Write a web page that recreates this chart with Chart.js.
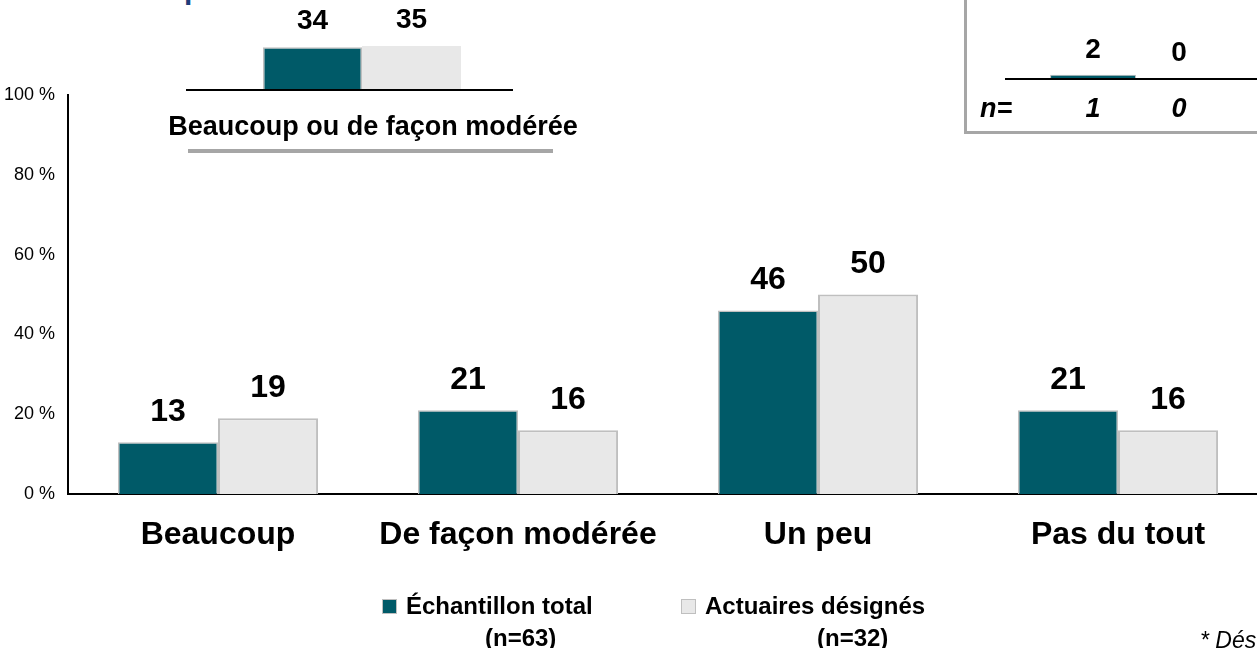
<!DOCTYPE html>
<html>
<head>
<meta charset="utf-8">
<script src="https://cdn.jsdelivr.net/npm/chart.js@4.4.1/dist/chart.umd.min.js"></script>
<style>
  body { margin: 0; width: 1257px; height: 648px; overflow: hidden; position: relative; background: #fff;
         font-family: "Liberation Sans", Arial, sans-serif; }
  .abs { position: absolute; white-space: nowrap; }
  #mainWrap { left: 0; top: 0; width: 1280px; height: 648px; }
  #insetWrap { left: 0; top: 0; width: 600px; height: 160px; }
  #boxWrap { left: 940px; top: 0; width: 340px; height: 140px; }
  .leg { font-weight: bold; font-size: 24px; color: #000; line-height: 28px; }
  .sq { width: 13px; height: 13px; border: 1px solid #bfbfbf; }
</style>
</head>
<body>
<div class="abs" style="left:184px;top:-26px;font:bold 30px 'Liberation Sans',Arial;line-height:30px;color:#1f3c7a">p</div>

<div id="mainWrap" class="abs"><canvas id="mainChart"></canvas></div>

<!-- encadré en haut a droite -->
<div class="abs" style="left:964px;top:-10px;width:400px;height:138px;border:3px solid #a6a6a6;"></div>
<div id="boxWrap" class="abs"><canvas id="boxChart"></canvas></div>
<div id="boxN"></div>

<!-- encadré en haut a gauche -->
<div id="insetWrap" class="abs"><canvas id="insetChart"></canvas></div>
<div class="abs" style="left:168px;top:110px;width:410px;text-align:center;font-weight:bold;font-size:27px;line-height:32px;color:#000">Beaucoup ou de façon modérée</div>
<div class="abs" style="left:188px;top:149px;width:365px;height:4px;background:#a6a6a6"></div>

<!-- legende -->
<div class="abs sq" style="left:382px;top:599px;background:#005a68"></div>
<div class="abs leg" style="left:406px;top:592px">Échantillon total</div>
<div class="abs leg" style="left:485px;top:624px">(n=63)</div>
<div class="abs sq" style="left:681px;top:599px;background:#e8e8e8"></div>
<div class="abs leg" style="left:705px;top:592px">Actuaires désignés</div>
<div class="abs leg" style="left:817px;top:624px">(n=32)</div>
<div class="abs" style="left:1200px;top:626px;font-style:italic;font-size:23px;line-height:28px;color:#000">* Dés</div>

<script>
// donnees
const categories = ['Beaucoup', 'De façon modérée', 'Un peu', 'Pas du tout'];
const totalSample = [13, 21, 46, 21];
const designated = [19, 16, 50, 16];
const yTicks = [0, 20, 40, 60, 80, 100];

const insetLabel = ['Beaucoup ou de façon modérée'];
const insetTotal = [34];
const insetDesignated = [35];

const boxTotal = [2];
const boxDesignated = [0];
const boxN = [1, 0];

const teal = '#005a68';
const grey = '#e8e8e8';
const edge = '#bfbfbf';
const font = "'Liberation Sans', Arial, sans-serif";

// plugin pour les etiquettes au-dessus des barres
function valueLabels(size, offset) {
    return {
        id: 'valueLabels',
        afterDatasetsDraw(chart) {
            const ctx = chart.ctx;
            ctx.save();
            ctx.font = 'bold ' + size + 'px ' + font;
            ctx.fillStyle = '#000';
            ctx.textAlign = 'center';
            ctx.textBaseline = 'middle';
            chart.data.datasets.forEach(function(ds, i) {
                chart.getDatasetMeta(i).data.forEach(function(bar, j) {
                    ctx.fillText(ds.data[j], bar.x, bar.y - offset);
                });
            });
            ctx.restore();
        }
    };
}

// graphique principal
var ctxMain = document.getElementById('mainChart').getContext('2d');
var mainChart = new Chart(ctxMain, {
    type: 'bar',
    data: {
        labels: categories,
        datasets: [{
            label: 'Échantillon total (n=63)',
            data: totalSample,
            backgroundColor: teal,
            borderColor: edge,
            borderWidth: 1.5
        }, {
            label: 'Actuaires désignés (n=32)',
            data: designated,
            backgroundColor: grey,
            borderColor: edge,
            borderWidth: 2
        }]
    },
    options: {
        responsive: true,
        maintainAspectRatio: false,
        animation: false,
        layout: { padding: { top: 95, right: 12, left: 0, bottom: 0 } },
        plugins: { legend: { display: false }, tooltip: { enabled: false } },
        datasets: { bar: { categoryPercentage: 0.667, barPercentage: 1.0 } },
        scales: {
            x: {
                grid: { display: false },
                border: { display: true, color: '#000', width: 2 },
                ticks: { color: '#000', font: { family: font, size: 32, weight: 'bold' }, padding: 14, maxRotation: 0 },
                afterFit: function(scale) { scale.height = 154; }
            },
            y: {
                min: 0,
                max: 100,
                grid: { display: false },
                border: { display: true, color: '#000', width: 2 },
                afterBuildTicks: function(scale) { scale.ticks = yTicks.map(v => ({ value: v })); },
                ticks: {
                    color: '#000',
                    font: { family: font, size: 18 },
                    padding: 5,
                    callback: function(v) { return v + ' %'; }
                },
                afterFit: function(scale) { scale.width = 68; }
            }
        }
    },
    plugins: [valueLabels(32, 30)]
});

// encadre gauche
var ctxInset = document.getElementById('insetChart').getContext('2d');
var insetChart = new Chart(ctxInset, {
    type: 'bar',
    data: {
        labels: insetLabel,
        datasets: [
            { data: insetTotal, backgroundColor: teal, borderColor: edge, borderWidth: 1.5 },
            { data: insetDesignated, backgroundColor: grey, borderColor: grey, borderWidth: 0 }
        ]
    },
    options: {
        responsive: true,
        maintainAspectRatio: false,
        animation: false,
        layout: { padding: { top: 27, left: 212, right: 88, bottom: 70 } },
        plugins: { legend: { display: false }, tooltip: { enabled: false } },
        datasets: { bar: { categoryPercentage: 0.66, barPercentage: 1.0 } },
        scales: {
            x: { display: false },
            y: { display: false, min: 0, max: 50 }
        }
    },
    plugins: [valueLabels(28, 26), {
        id: 'baseline',
        afterDraw(chart) {
            const c = chart.ctx;
            c.save();
            c.strokeStyle = '#000';
            c.lineWidth = 2;
            c.beginPath();
            c.moveTo(186, chart.chartArea.bottom);
            c.lineTo(513, chart.chartArea.bottom);
            c.stroke();
            c.restore();
        }
    }]
});

// encadre droit
var ctxBox = document.getElementById('boxChart').getContext('2d');
var boxChart = new Chart(ctxBox, {
    type: 'bar',
    data: {
        labels: [''],
        datasets: [
            { data: boxTotal, backgroundColor: teal, borderColor: edge, borderWidth: { top: 1, left: 1, right: 1, bottom: 0 } },
            { data: boxDesignated, backgroundColor: grey, borderColor: edge, borderWidth: 0 }
        ]
    },
    options: {
        responsive: true,
        maintainAspectRatio: false,
        animation: false,
        layout: { padding: { top: 15, left: 65, right: 13, bottom: 62 } },
        plugins: { legend: { display: false }, tooltip: { enabled: false } },
        datasets: { bar: { categoryPercentage: 0.656, barPercentage: 1.0 } },
        scales: {
            x: { display: false },
            y: { display: false, min: 0, max: 40 }
        }
    },
    plugins: [valueLabels(28, 25), {
        id: 'baseline',
        beforeDatasetsDraw(chart) {
            const c = chart.ctx;
            c.save();
            c.strokeStyle = '#000';
            c.lineWidth = 2;
            c.beginPath();
            c.moveTo(chart.chartArea.left, chart.chartArea.bottom + 1);
            c.lineTo(chart.chartArea.right, chart.chartArea.bottom + 1);
            c.stroke();
            c.restore();
        }
    }]
});

// n= sous l'encadre droit
var nDiv = document.getElementById('boxN');
var nHtml = '<div class="abs" style="left:980px;top:93px;font:italic bold 27px ' + font + ';line-height:30px">n=</div>';
boxChart.getDatasetMeta(0).data.concat(boxChart.getDatasetMeta(1).data).forEach(function(bar, i) {
    var x = 940 + bar.x;
    nHtml += '<div class="abs" style="left:' + (x - 30) + 'px;width:60px;text-align:center;top:93px;font:italic bold 27px ' + font + ';line-height:30px">' + boxN[i] + '</div>';
});
nDiv.innerHTML = nHtml;
</script>
</body>
</html>
